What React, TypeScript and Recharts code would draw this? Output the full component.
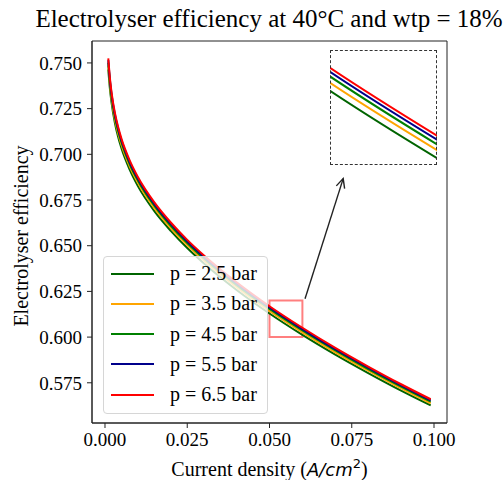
import {
  LineChart, Line, XAxis, YAxis, ReferenceArea, ReferenceLine,
} from "recharts";

// current density (A/cm²) and efficiency for each operating pressure
const CURRENT = [0.001, 0.0015, 0.002, 0.003, 0.004, 0.005, 0.0075, 0.01, 0.015, 0.02, 0.025, 0.03, 0.04, 0.05, 0.06, 0.07, 0.08, 0.09, 0.099];
const EFF_2_5 = [0.7465, 0.7358, 0.7281, 0.7173, 0.7095, 0.7033, 0.6916, 0.6826, 0.6689, 0.6581, 0.6487, 0.6404, 0.6258, 0.6129, 0.6012, 0.5904, 0.5803, 0.5707, 0.5626];
const EFF_3_5 = [0.7486, 0.7378, 0.7301, 0.7192, 0.7114, 0.7052, 0.6934, 0.6844, 0.6706, 0.6597, 0.6503, 0.6420, 0.6273, 0.6143, 0.6026, 0.5917, 0.5816, 0.5719, 0.5638];
const EFF_4_5 = [0.7502, 0.7394, 0.7316, 0.7207, 0.7128, 0.7066, 0.6947, 0.6857, 0.6719, 0.6609, 0.6515, 0.6431, 0.6284, 0.6154, 0.6036, 0.5927, 0.5825, 0.5729, 0.5647];
const EFF_5_5 = [0.7515, 0.7406, 0.7328, 0.7218, 0.7140, 0.7077, 0.6958, 0.6867, 0.6729, 0.6619, 0.6524, 0.6440, 0.6293, 0.6162, 0.6044, 0.5934, 0.5833, 0.5736, 0.5654];
const EFF_6_5 = [0.7525, 0.7416, 0.7338, 0.7228, 0.7149, 0.7086, 0.6967, 0.6876, 0.6737, 0.6627, 0.6532, 0.6448, 0.6300, 0.6169, 0.6051, 0.5941, 0.5839, 0.5742, 0.5660];

const X_TICKS = [0, 0.025, 0.05, 0.075, 0.1];
const Y_TICKS = [0.575, 0.6, 0.625, 0.65, 0.675, 0.7, 0.725, 0.75];
const X_DOMAIN = [-0.00395, 0.10395];
const Y_DOMAIN = [0.553, 0.762];

// zoomed window shown in the inset
const ZOOM_X = [0.05, 0.06];
const ZOOM_Y = [0.6, 0.62];
// arrow from the zoom box up to the inset
const ARROW_FROM = { x: 0.0608, y: 0.621 };
const ARROW_TO = { x: 0.0724, y: 0.6867 };

const SERIES = [
  { key: "p25", label: "p = 2.5 bar", color: "#006400", values: EFF_2_5 },
  { key: "p35", label: "p = 3.5 bar", color: "#FFA500", values: EFF_3_5 },
  { key: "p45", label: "p = 4.5 bar", color: "#008000", values: EFF_4_5 },
  { key: "p55", label: "p = 5.5 bar", color: "#00008B", values: EFF_5_5 },
  { key: "p65", label: "p = 6.5 bar", color: "#FF0000", values: EFF_6_5 },
];

const data = CURRENT.map((i, idx) => {
  const row: Record<string, number> = { i };
  SERIES.forEach(s => { row[s.key] = s.values[idx]; });
  return row;
});

const SERIF = '"Liberation Serif", "Times New Roman", serif';
const INK = "#222";

function Arrow(props: any) {
  const { x1, y1, x2, y2 } = props;
  const ang = Math.atan2(y2 - y1, x2 - x1);
  const len = 10;
  const spread = 0.45;
  const ax = x2 - len * Math.cos(ang - spread);
  const ay = y2 - len * Math.sin(ang - spread);
  const bx = x2 - len * Math.cos(ang + spread);
  const by = y2 - len * Math.sin(ang + spread);
  return (
    <g stroke={INK} strokeWidth={1.4} fill="none">
      <line x1={x1} y1={y1} x2={x2} y2={y2} />
      <polyline points={`${ax},${ay} ${x2},${y2} ${bx},${by}`} />
    </g>
  );
}

function YTitle(props: any) {
  const vb = props.viewBox;
  const cx = vb.x + 28;
  const cy = vb.y + vb.height / 2 + 4;
  return (
    <text x={cx} y={cy} transform={`rotate(-90 ${cx} ${cy})`} textAnchor="middle"
      fontFamily={SERIF} fontSize={20} fill="#000">
      Electrolyser efficiency
    </text>
  );
}

function XTitle(props: any) {
  const vb = props.viewBox;
  return (
    <text x={vb.x + vb.width / 2} y={vb.y + 53} textAnchor="middle" fontFamily={SERIF} fontSize={20} fill="#000">
      <tspan>Current density (</tspan>
      <tspan fontFamily='"DejaVu Sans", sans-serif' fontStyle="italic" fontSize={18}>A/cm</tspan>
      <tspan fontFamily='"DejaVu Sans", sans-serif' fontSize={13} dy={-8}>2</tspan>
      <tspan dy={8}>)</tspan>
    </text>
  );
}

function LegendBox() {
  return (
    <div style={{
      position: "absolute", left: 103, top: 256, width: 165, height: 158, boxSizing: "border-box",
      border: "1px solid #d6d6d6", borderRadius: 4, background: "rgba(255,255,255,0.8)",
      fontFamily: SERIF, fontSize: 20, color: "#000",
    }}>
      {SERIES.map((s, idx) => (
        <div key={s.key} style={{ position: "absolute", left: 0, top: 3 + idx * 30.3, height: 27, display: "flex", alignItems: "center" }}>
          <div style={{ marginLeft: 7, width: 43, height: 2, background: s.color }} />
          <span style={{ marginLeft: 16, whiteSpace: "nowrap" }}>{s.label}</span>
        </div>
      ))}
    </div>
  );
}

export default function App() {
  return (
    <div style={{ position: "absolute", left: 0, top: 0, width: 504, height: 480, background: "#fff", overflow: "hidden" }}>
      <div style={{
        position: "absolute", left: 0, top: 5, width: 538, textAlign: "center",
        fontFamily: SERIF, fontSize: 25, color: "#000", whiteSpace: "nowrap",
      }}>
        Electrolyser efficiency at 40°C and wtp = 18%
      </div>

      <LineChart width={504} height={480} data={data} margin={{ top: 41, right: 57, left: 0, bottom: 0 }}
        style={{ position: "absolute", left: 0, top: 0 }}>
        <XAxis dataKey="i" type="number" domain={X_DOMAIN} ticks={X_TICKS}
          allowDataOverflow height={57} tickSize={5} tickMargin={5}
          tickFormatter={(v: number) => v.toFixed(3)}
          tick={{ fontFamily: SERIF, fontSize: 19, fill: "#000" }}
          axisLine={{ stroke: INK }} tickLine={{ stroke: INK }}
          label={XTitle} />
        <YAxis type="number" domain={Y_DOMAIN} ticks={Y_TICKS} allowDataOverflow width={92}
          tickSize={5} tickMargin={5} tickFormatter={(v: number) => v.toFixed(3)}
          tick={{ fontFamily: SERIF, fontSize: 19, fill: "#000" }}
          axisLine={{ stroke: INK }} tickLine={{ stroke: INK }}
          label={YTitle} />
        {/* full frame around the plot area */}
        <ReferenceArea x1={X_DOMAIN[0]} x2={X_DOMAIN[1]} y1={Y_DOMAIN[0]} y2={Y_DOMAIN[1]}
          fill="none" fillOpacity={0} stroke={INK} strokeWidth={1} ifOverflow="extendDomain" />
        {SERIES.map(s => (
          <Line key={s.key} type="monotone" dataKey={s.key} stroke={s.color} strokeWidth={2}
            dot={false} activeDot={false} isAnimationActive={false} />
        ))}
        <ReferenceArea x1={ZOOM_X[0]} x2={ZOOM_X[1]} y1={ZOOM_Y[0]} y2={ZOOM_Y[1]}
          fill="none" fillOpacity={0} stroke="#FF0000" strokeOpacity={0.5} strokeWidth={2} />
        <ReferenceLine segment={[ARROW_FROM, ARROW_TO]} shape={Arrow} />
      </LineChart>

      <LineChart width={107} height={115} data={data} margin={{ top: 0, right: 0, left: 0, bottom: 0 }}
        style={{ position: "absolute", left: 330, top: 50, background: "#fff" }}>
        <XAxis dataKey="i" type="number" domain={ZOOM_X} allowDataOverflow hide />
        <YAxis type="number" domain={ZOOM_Y} allowDataOverflow hide />
        {SERIES.map(s => (
          <Line key={s.key} type="monotone" dataKey={s.key} stroke={s.color} strokeWidth={2}
            dot={false} activeDot={false} isAnimationActive={false} />
        ))}
      </LineChart>
      <div style={{
        position: "absolute", left: 330, top: 50, width: 107, height: 115, boxSizing: "border-box",
        border: "1px dashed #333",
      }} />

      <LegendBox />
    </div>
  );
}
